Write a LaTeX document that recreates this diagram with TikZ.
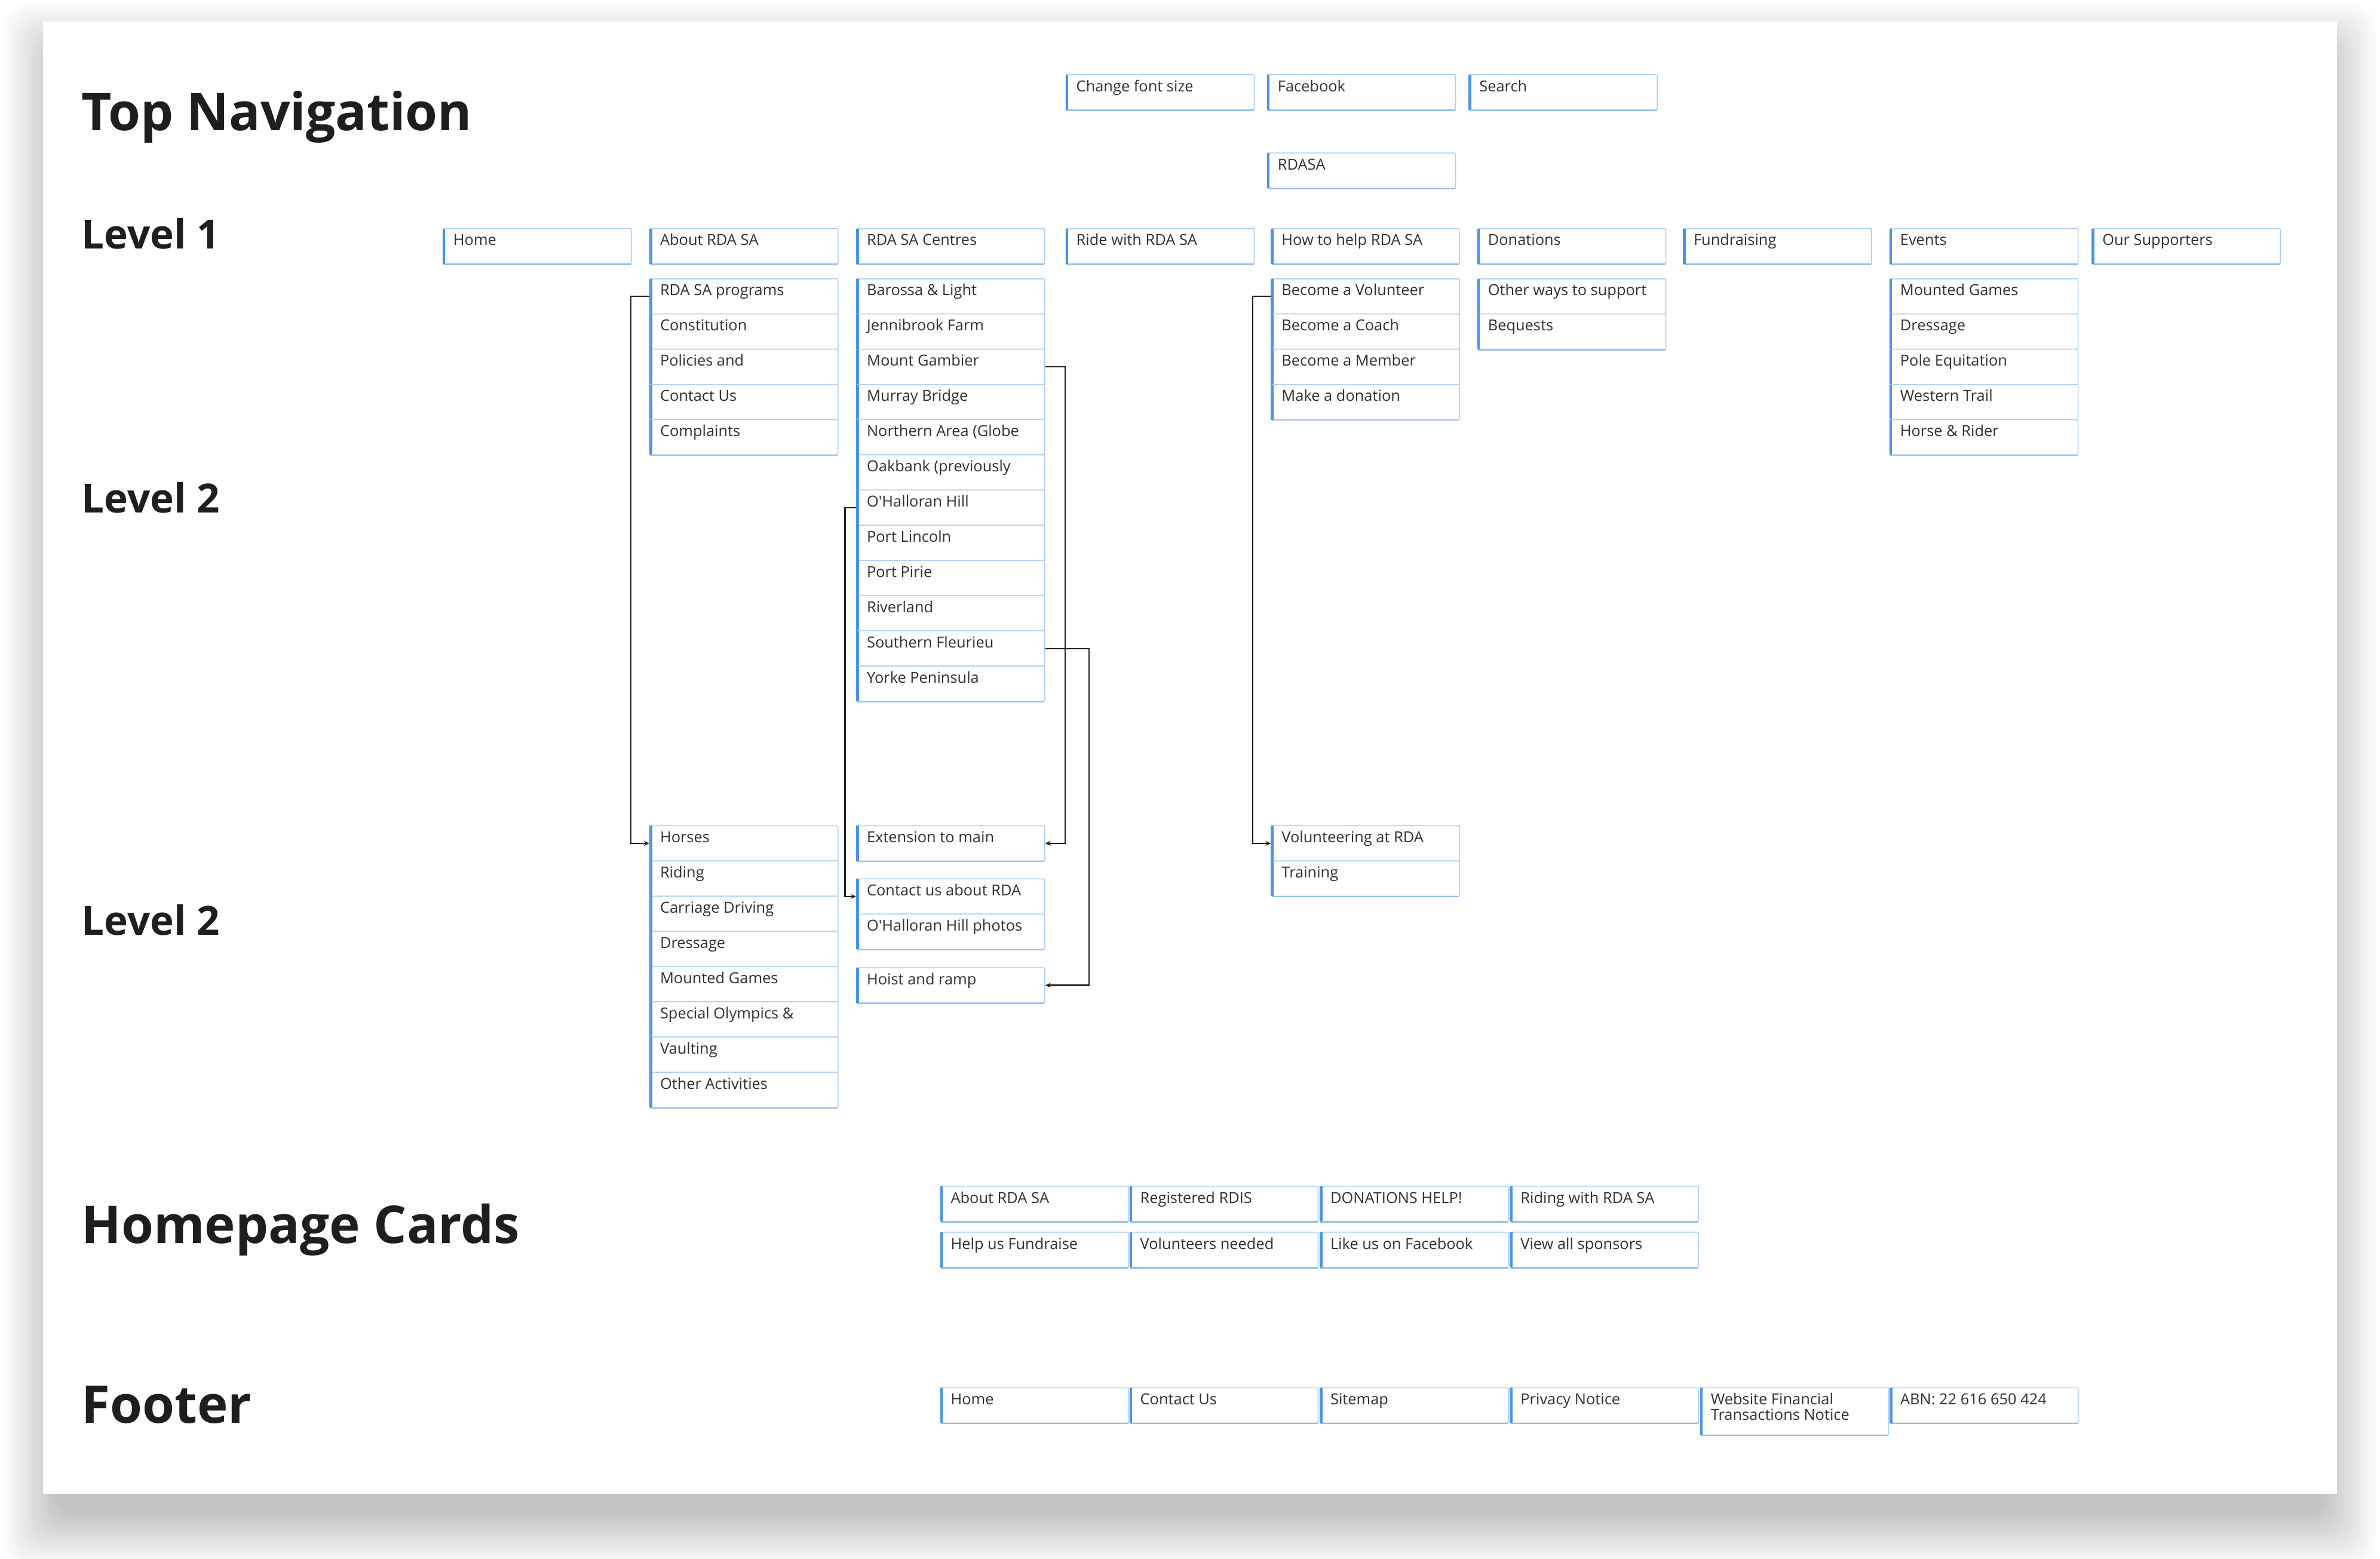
\documentclass[tikz,border=0pt]{standalone}
\usepackage{fontspec}
\setmainfont{Open Sans}[Ligatures=TeXOff]
\usetikzlibrary{arrows.meta}
\definecolor{boxline}{HTML}{A9CFF5}
\definecolor{boxbottom}{HTML}{93C1F0}
\definecolor{barblue}{HTML}{4B94E6}
\definecolor{connc}{HTML}{222222}
\definecolor{txt}{HTML}{303030}
\definecolor{head}{HTML}{1E1E1E}
\tikzset{
  box/.style={draw=boxline, line width=0.6pt, rectangle, rounded corners=0.8pt,
    minimum width=124pt, minimum height=23.2pt, inner sep=0pt, anchor=north west, fill=white},
  tallbox/.style={box, minimum height=31.1pt},
  boxtext/.style={anchor=base west, inner sep=0pt,
    font=\fontsize{10}{10.2}\selectfont, text=txt},
  leftbar/.style={draw=barblue, line width=1.8pt},
  bottombar/.style={draw=boxbottom, line width=0.9pt},
  conn/.style={draw=connc, line width=0.9pt, -{Stealth[length=3.6pt,width=3.2pt]}},
  heading/.style={anchor=base west, inner sep=0pt, text=head},
}
\newcommand{\bx}[4][box]{%
  \node[#1] (#2) at (#3) {};
  \draw[bottombar] ([xshift=0.5pt]#2.south west) -- ([xshift=-0.5pt]#2.south east);
  \draw[leftbar] ([xshift=0.9pt,yshift=-0.3pt]#2.north west) -- ([xshift=0.9pt,yshift=0.3pt]#2.south west);
  \node[boxtext] (#2t) at ([xshift=6.9pt,yshift=-11.4pt]#2.north west)
    {\parbox[t]{112pt}{\raggedright #4}};
}
\begin{document}
\begin{tikzpicture}[x=1pt, y=-1pt]
\useasboundingbox (0,0) rectangle (1568,1027.2);
\fill[white] (0,0) rectangle (1568,1027.2);
% card shadow
\foreach \i in {1,...,30}{
  \fill[black, opacity=0.008, rounded corners=14pt]
    (28.3+10-\i*1.2, 14+25-\i*1.2) rectangle (1539.6-10+\i*1.2, 984.5+12+\i*1.2);
}
\fill[white] (28.3,14) rectangle (1539.6,984.5);

% headings
\node[heading, font=\bfseries\fontsize{34.3}{40}\selectfont] (hTop) at (53.6,85.9) {Top Navigation};
\node[heading, font=\bfseries\fontsize{26.5}{32}\selectfont] (hL1) at (53.6,164) {Level 1};
\node[heading, font=\bfseries\fontsize{26.5}{32}\selectfont] (hL2a) at (53.6,337.8) {Level 2};
\node[heading, font=\bfseries\fontsize{26.5}{32}\selectfont] (hL2b) at (53.6,616.1) {Level 2};
\node[heading, font=\bfseries\fontsize{34.3}{40}\selectfont] (hCards) at (53.6,819.3) {Homepage Cards};
\node[heading, font=\bfseries\fontsize{34.3}{40}\selectfont] (hFoot) at (53.6,937.5) {Footer};

% utility row
\bx{ufont}{702,48.9}{Change font size}
\bx{ufb}{834.7,48.9}{Facebook}
\bx{usearch}{967.5,48.9}{Search}
\bx{urdasa}{834.7,100.5}{RDASA}

% level 1
\bx{home}{291.6,150.3}{Home}
\bx{about}{427.8,150.3}{About RDA SA}
\bx{centres}{564,150.3}{RDA SA Centres}
\bx{ride}{702,150.3}{Ride with RDA SA}
\bx{howto}{837.3,150.3}{How to help RDA SA}
\bx{donations}{973.2,150.3}{Donations}
\bx{fundraising}{1108.7,150.3}{Fundraising}
\bx{events}{1244.8,150.3}{Events}
\bx{supporters}{1378,150.3}{Our Supporters}

% level 2 stacks
\foreach \t [count=\i from 0] in {RDA SA programs, Constitution, Policies and, Contact Us, Complaints}{
  \bx{ab\i}{427.8,183.4+23.2*\i}{\t}
}
\foreach \t [count=\i from 0] in {Barossa \& Light, Jennibrook Farm, Mount Gambier, Murray Bridge,
  Northern Area (Globe, Oakbank (previously, O'Halloran Hill, Port Lincoln, Port Pirie,
  Riverland, Southern Fleurieu, Yorke Peninsula}{
  \bx{ce\i}{564,183.4+23.2*\i}{\t}
}
\foreach \t [count=\i from 0] in {Become a Volunteer, Become a Coach, Become a Member, Make a donation}{
  \bx{hw\i}{837.3,183.4+23.2*\i}{\t}
}
\foreach \t [count=\i from 0] in {Other ways to support, Bequests}{
  \bx{dn\i}{973.2,183.4+23.2*\i}{\t}
}
\foreach \t [count=\i from 0] in {Mounted Games, Dressage, Pole Equitation, Western Trail, Horse \& Rider}{
  \bx{ev\i}{1244.8,183.4+23.2*\i}{\t}
}

% lower level 2
\foreach \t [count=\i from 0] in {Horses, Riding, Carriage Driving, Dressage, Mounted Games,
  Special Olympics \&, Vaulting, Other Activities}{
  \bx{lo\i}{427.8,543.8+23.2*\i}{\t}
}
\bx{ext}{564,543.8}{Extension to main}
\bx{contact}{564,578.8}{Contact us about RDA}
\bx{photos}{564,602}{O'Halloran Hill photos}
\bx{hoist}{564,637.3}{Hoist and ramp}
\bx{vol}{837.3,543.8}{Volunteering at RDA}
\bx{training}{837.3,567}{Training}

% connectors
\draw[conn] (ab0.west) -- ++(-12.3,0) |- (lo0.west);
\draw[conn] (ce2.east) -- ++(13.2,0) |- (ext.east);
\draw[conn] (ce6.west) -- ++(-7.3,0) |- (contact.west);
\draw[conn] (ce10.east) -- ++(29,0) |- (hoist.east);
\draw[conn] (hw0.west) -- ++(-12,0) |- (vol.west);

% homepage cards
\bx{c1}{619.3,781.3}{About RDA SA}
\bx{c2}{744.1,781.3}{Registered RDIS}
\bx{c3}{869.4,781.3}{DONATIONS HELP!}
\bx{c4}{994.7,781.3}{Riding with RDA SA}
\bx{c5}{619.3,811.6}{Help us Fundraise}
\bx{c6}{744.1,811.6}{Volunteers needed}
\bx{c7}{869.4,811.6}{Like us on Facebook}
\bx{c8}{994.7,811.6}{View all sponsors}

% footer
\bx{f1}{619.3,914.1}{Home}
\bx{f2}{744.1,914.1}{Contact Us}
\bx{f3}{869.4,914.1}{Sitemap}
\bx{f4}{994.7,914.1}{Privacy Notice}
\bx[tallbox]{f5}{1120,914.1}{Website Financial\\Transactions Notice}
\bx{f6}{1244.9,914.1}{ABN: 22 616 650 424}
\end{tikzpicture}
\end{document}
